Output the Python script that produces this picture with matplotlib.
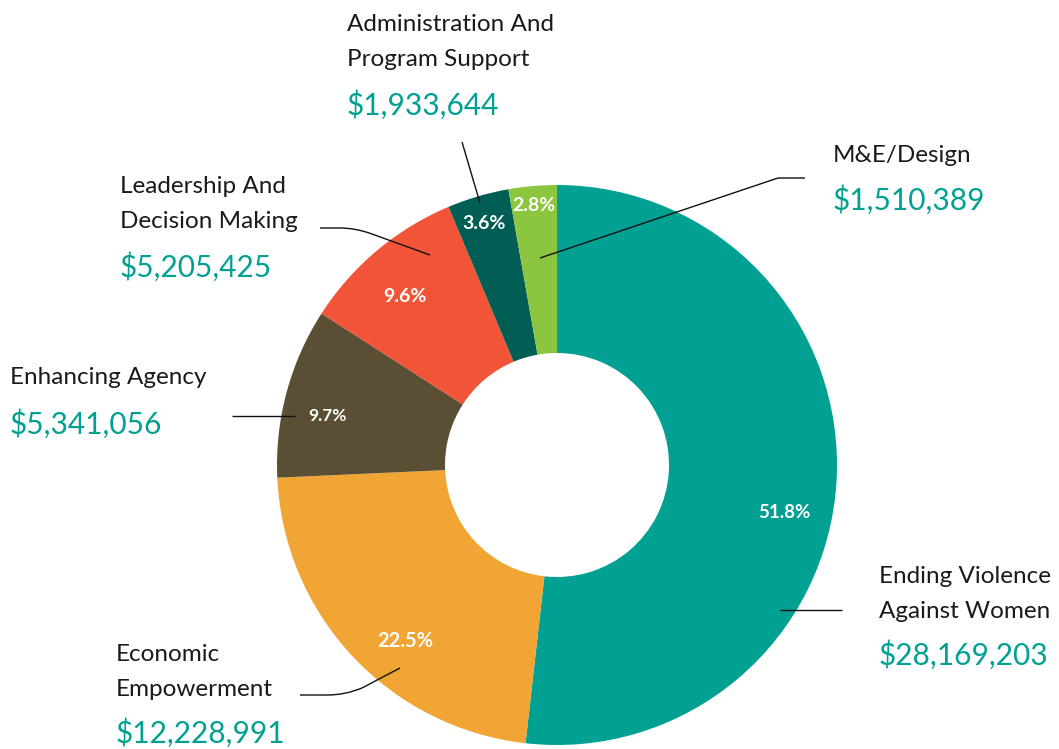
import numpy as np
import matplotlib
matplotlib.use("Agg")
import matplotlib.pyplot as plt
from matplotlib.path import Path
from matplotlib.patches import PathPatch

plt.rcParams['font.family'] = ['Lato', 'DejaVu Sans']

categories = ['Ending Violence\nAgainst Women', 'Economic\nEmpowerment', 'Enhancing Agency',
              'Leadership And\nDecision Making', 'Administration And\nProgram Support', 'M&E/Design']
amounts = [28169203, 12228991, 5341056, 5205425, 1933644, 1510389]
pct_labels = ['51.8%', '22.5%', '9.7%', '9.6%', '3.6%', '2.8%']
colors = ['#00A193', '#F0A535', '#5A4E34', '#F15436', '#005E54', '#8CC63F']

W, H = 1059, 749
fig = plt.figure(figsize=(W / 100, H / 100), dpi=100)
ax = fig.add_axes([0, 0, 1, 1])

cx, cy, R = 557, H - 465, 280
wedges, _ = ax.pie(amounts, colors=colors, startangle=90, counterclock=False,
                   center=(cx, cy), radius=R, frame=True,
                   wedgeprops=dict(width=R * 0.6, linewidth=0))
ax.set_xlim(0, W)
ax.set_ylim(0, H)
ax.set_aspect('equal')
ax.axis('off')

# percentage labels inside the ring
pct_r = [0.83, 0.83, 0.84, 0.81, 0.9, 0.93]
pct_shift = [-8.5, 6, 3, 2, 0.5, 0]
pct_size = [13.5, 14.5, 12.5, 14, 14, 14]
for w, lab, rr, sh, fs in zip(wedges, pct_labels, pct_r, pct_shift, pct_size):
    ang = np.deg2rad((w.theta1 + w.theta2) / 2 + sh)
    ax.text(cx + R * rr * np.cos(ang), cy + R * rr * np.sin(ang), lab,
            color='white', fontsize=fs, fontweight='bold', ha='center', va='center')

# outside labels: text x, name centre y, value y (top-down px), leader line path
M, L, C = Path.MOVETO, Path.LINETO, Path.CURVE3
layout = [
    (879, 594, 655, [(842, 610), (780, 610)], [M, L]),
    (116, 672, 733, [(300, 695), (328, 695), (345, 695), (362, 688), (400, 668)], [M, L, C, C, L]),
    (10, 378, 424, [(232, 416), (295, 416)], [M, L]),
    (120, 204, 267, [(320, 228), (340, 228), (356, 228), (372, 234), (430, 255)], [M, L, C, C, L]),
    (347, 42, 105, [(462, 142), (480, 203)], [M, L]),
    (833, 155, 200, [(805, 178), (778, 178), (540, 258)], [M, L, L]),
]
for name, a, (tx, ny, vy, pts, codes) in zip(categories, amounts, layout):
    ax.text(tx, H - ny, name, fontsize=17.5, color='#1a1a1a', ha='left', va='center',
            linespacing=1.8)
    ax.text(tx, H - vy, f'${a:,}', fontsize=21.5, color='#00A193', ha='left', va='center')
    verts = [(x, H - y) for x, y in pts]
    ax.add_patch(PathPatch(Path(verts, codes), facecolor='none', edgecolor='#111111',
                           linewidth=1.0))

fig.savefig('out.png', dpi=100, facecolor='white')
